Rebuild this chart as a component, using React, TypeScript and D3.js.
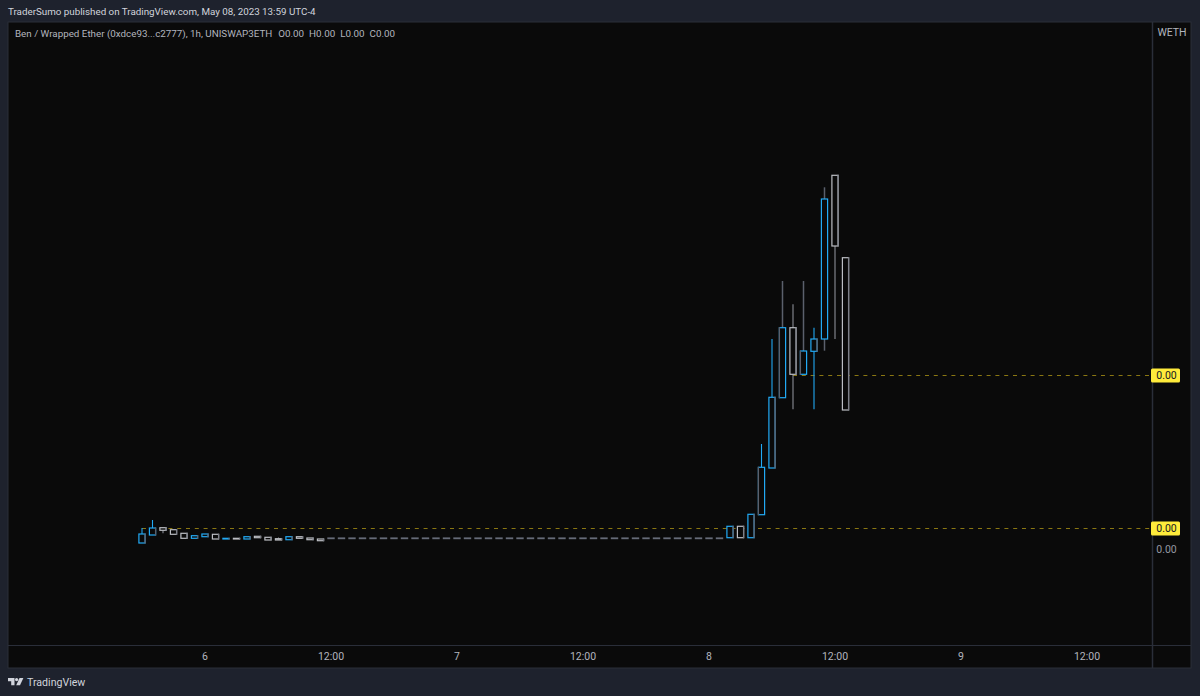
import React, { useEffect, useRef } from 'react';
import * as d3 from 'd3';

const width = 1200;
const height = 696;

// hours counted from the "6" tick
const hours = [-6, -5, -4, -3, -2, -1, 0, 1, 2, 3, 4, 5, 6, 7, 8, 9, 10, 11, 12, 13, 14, 15, 16, 17, 18, 19, 20, 21, 22, 23, 24, 25, 26, 27, 28, 29, 30, 31, 32, 33, 34, 35, 36, 37, 38, 39, 40, 41, 42, 43, 44, 45, 46, 47, 48, 49, 50, 51, 52, 53, 54, 55, 56, 57, 58, 59, 60, 61];

// prices are in picture units: the real ones are too small to read, the axis prints 0.00
const opens = [1.02, 1.10, 1.173, 1.153, 1.117, 1.067, 1.083, 1.107, 1.06, 1.067, 1.06, 1.087, 1.077, 1.063, 1.053, 1.083, 1.07, 1.06, 1.07, 1.07, 1.07, 1.07, 1.07, 1.07, 1.07, 1.07, 1.07, 1.07, 1.07, 1.07, 1.07, 1.07, 1.07, 1.07, 1.07, 1.07, 1.07, 1.07, 1.07, 1.07, 1.07, 1.07, 1.07, 1.07, 1.07, 1.07, 1.07, 1.07, 1.07, 1.07, 1.07, 1.07, 1.07, 1.07, 1.07, 1.07, 1.073, 1.187, 1.073, 1.303, 1.77, 2.473, 3.173, 2.707, 2.937, 3.06, 4.697, 3.873];
const closes = [1.11, 1.17, 1.147, 1.107, 1.067, 1.093, 1.11, 1.06, 1.067, 1.06, 1.083, 1.073, 1.05, 1.05, 1.083, 1.067, 1.053, 1.043, 1.07, 1.07, 1.07, 1.07, 1.07, 1.07, 1.07, 1.07, 1.07, 1.07, 1.07, 1.07, 1.07, 1.07, 1.07, 1.07, 1.07, 1.07, 1.07, 1.07, 1.07, 1.07, 1.07, 1.07, 1.07, 1.07, 1.07, 1.07, 1.07, 1.07, 1.07, 1.07, 1.07, 1.07, 1.07, 1.07, 1.07, 1.07, 1.187, 1.073, 1.307, 1.777, 2.477, 3.173, 2.707, 2.94, 3.06, 4.46, 3.99, 2.35];
const highs = [1.17, 1.25, 1.173, 1.153, 1.117, 1.093, 1.11, 1.107, 1.067, 1.067, 1.083, 1.087, 1.077, 1.075, 1.083, 1.083, 1.07, 1.06, 1.07, 1.07, 1.07, 1.07, 1.07, 1.07, 1.07, 1.07, 1.07, 1.07, 1.07, 1.07, 1.07, 1.07, 1.07, 1.07, 1.07, 1.07, 1.07, 1.07, 1.07, 1.07, 1.07, 1.07, 1.07, 1.07, 1.07, 1.07, 1.07, 1.07, 1.07, 1.07, 1.07, 1.07, 1.07, 1.07, 1.07, 1.07, 1.187, 1.187, 1.307, 2.01, 3.06, 3.64, 3.407, 3.64, 3.173, 4.577, 4.697, 3.873];
const lows = [1.02, 1.10, 1.117, 1.107, 1.067, 1.067, 1.083, 1.06, 1.06, 1.06, 1.06, 1.073, 1.05, 1.05, 1.053, 1.067, 1.053, 1.043, 1.07, 1.07, 1.07, 1.07, 1.07, 1.07, 1.07, 1.07, 1.07, 1.07, 1.07, 1.07, 1.07, 1.07, 1.07, 1.07, 1.07, 1.07, 1.07, 1.07, 1.07, 1.07, 1.07, 1.07, 1.07, 1.07, 1.07, 1.07, 1.07, 1.07, 1.07, 1.07, 1.07, 1.07, 1.07, 1.07, 1.07, 1.07, 1.073, 1.073, 1.073, 1.303, 1.77, 2.473, 2.357, 2.707, 2.357, 2.943, 3.06, 2.35];

const timeTickHours = [0, 12, 24, 36, 48, 60, 72, 84];
const timeTickLabels = ['6', '12:00', '7', '12:00', '8', '12:00', '9', '12:00'];

const priceLines = [
    { price: 2.70, fromHour: 56, label: '0.00' },
    { price: 1.17, fromHour: -6, label: '0.00' },
];
const axisPrices = [0.96];
const axisLabels = ['0.00'];

const titleText = 'TraderSumo published on TradingView.com, May 08, 2023 13:59 UTC-4';
const legendText = 'Ben / Wrapped Ether (0xdce93...c2777), 1h, UNISWAP3ETH';
const legendValues = ['O0.00', 'H0.00', 'L0.00', 'C0.00'];
const currencyText = 'WETH';
const brandText = 'TradingView';

// the picture shows one side of each outline dimmer than the other
const dimLeftHours = new Set([53, 55, 57]);
const noDimHours = new Set([59]);
const dimWickHours = new Set([55, 57, 59]);

const App: React.FC = () => {
    const svgRef = useRef<SVGSVGElement>(null);

    useEffect(() => {
        if (!svgRef.current) return;
        const svg = d3.select(svgRef.current);
        svg.selectAll('*').remove();

        const font = 'Roboto, sans-serif';
        const pane = { left: 8, right: 1152, top: 22, bottom: 645, outerRight: 1191, outerBottom: 668 };
        const blue = '#22aaf5';
        const light = '#bcbec4';
        const dim = '#5b606c';
        const flat = '#666b78';
        const lineColor = '#8a7712';

        const xScale = d3.scaleLinear().domain([0, 84]).range([205, 1087]);
        const yScale = d3.scaleLinear().domain([0, 6.23]).range([pane.bottom, pane.top]);

        svg.append('rect').attr('width', width).attr('height', height).attr('fill', '#1e222d');
        svg.append('rect')
            .attr('x', pane.left).attr('y', pane.top)
            .attr('width', pane.outerRight - pane.left).attr('height', pane.outerBottom - pane.top)
            .attr('fill', '#0a0a0a').attr('stroke', '#2a2e39');
        svg.append('line')
            .attr('x1', pane.right + 0.5).attr('x2', pane.right + 0.5)
            .attr('y1', pane.top).attr('y2', pane.outerBottom)
            .attr('stroke', '#2a2e39').attr('stroke-width', 1.5);
        svg.append('line')
            .attr('x1', pane.left).attr('x2', pane.outerRight)
            .attr('y1', pane.bottom + 0.5).attr('y2', pane.bottom + 0.5)
            .attr('stroke', '#2a2e39');

        // Dashed price lines sit behind the candles
        priceLines.forEach(line => {
            const y = Math.round(yScale(line.price)) + 0.5;
            svg.append('line')
                .attr('x1', xScale(line.fromHour)).attr('x2', pane.right)
                .attr('y1', y).attr('y2', y)
                .attr('stroke', lineColor)
                .attr('stroke-dasharray', '4 4.8');
        });

        const candles = hours.map((hour, i) => ({
            hour, open: opens[i], close: closes[i], high: highs[i], low: lows[i],
        }));
        const bodyWidth = 6.2;

        candles.forEach(d => {
            const x = xScale(d.hour);
            const top = yScale(Math.max(d.open, d.close));
            const bottom = yScale(Math.min(d.open, d.close));
            const isFlat = d.open === d.close;
            const main = isFlat ? flat : d.close > d.open ? blue : light;
            const wickDim = dimWickHours.has(d.hour);
            const wickColor = wickDim ? dim : main === light ? '#8b8e96' : main;

            if (d.high > d.low && yScale(d.high) < top) {
                svg.append('line')
                    .attr('x1', x).attr('x2', x)
                    .attr('y1', yScale(d.high)).attr('y2', top)
                    .attr('stroke', wickColor)
                    .attr('stroke-width', wickDim ? 1.5 : 1.1);
            }
            if (d.high > d.low && yScale(d.low) > bottom) {
                svg.append('line')
                    .attr('x1', x).attr('x2', x)
                    .attr('y1', bottom).attr('y2', yScale(d.low))
                    .attr('stroke', wickColor)
                    .attr('stroke-width', wickDim ? 1.5 : 1.1);
            }

            svg.append('rect')
                .attr('x', x - bodyWidth / 2)
                .attr('y', top)
                .attr('width', bodyWidth)
                .attr('height', Math.max(bottom - top, 0.6))
                .attr('fill', '#0a0a0a')
                .attr('stroke', main)
                .attr('stroke-width', 1.2);

            if (!isFlat && !noDimHours.has(d.hour)) {
                const sideX = dimLeftHours.has(d.hour) ? x - bodyWidth / 2 : x + bodyWidth / 2;
                svg.append('line')
                    .attr('x1', sideX).attr('x2', sideX)
                    .attr('y1', top - 0.5).attr('y2', bottom + 0.5)
                    .attr('stroke', main === light ? '#7d8089' : dim)
                    .attr('stroke-width', 1.3);
            }
        });

        // Price axis tags
        priceLines.forEach(line => {
            const y = Math.round(yScale(line.price)) + 0.5;
            svg.append('rect')
                .attr('x', pane.right - 1).attr('y', y - 7)
                .attr('width', 29).attr('height', 14)
                .attr('rx', 1.5)
                .attr('fill', '#ffeb3b');
            svg.append('text')
                .attr('x', pane.right + 14.5).attr('y', y + 3.5)
                .attr('text-anchor', 'middle')
                .attr('fill', '#131722')
                .style('font-family', font).style('font-size', '10.5px')
                .text(line.label);
        });
        axisPrices.forEach((price, i) => {
            svg.append('text')
                .attr('x', pane.right + 14.5).attr('y', yScale(price) + 3.5)
                .attr('text-anchor', 'middle')
                .attr('fill', '#9598a1')
                .style('font-family', font).style('font-size', '10.5px')
                .text(axisLabels[i]);
        });

        // Time axis
        timeTickHours.forEach((hour, i) => {
            svg.append('text')
                .attr('x', xScale(hour)).attr('y', 660)
                .attr('text-anchor', 'middle')
                .attr('fill', '#b2b5be')
                .style('font-family', font).style('font-size', '10.5px')
                .text(timeTickLabels[i]);
        });

        svg.append('text')
            .attr('x', 8).attr('y', 15)
            .attr('fill', '#d1d4dc')
            .style('font-family', font).style('font-size', '9.8px')
            .text(titleText);

        const legend = svg.append('text')
            .attr('x', 15).attr('y', 37)
            .attr('fill', '#b2b5be')
            .style('font-family', font).style('font-size', '9.8px');
        legend.append('tspan').text(legendText);
        legendValues.forEach((v, i) => {
            legend.append('tspan').attr('dx', i === 0 ? 6 : 5).text(v);
        });

        svg.append('text')
            .attr('x', 1172).attr('y', 36)
            .attr('text-anchor', 'middle')
            .attr('fill', '#b2b5be')
            .style('font-family', font).style('font-size', '10.5px')
            .text(currencyText);

        // TradingView mark
        const logo = svg.append('g').attr('fill', '#d1d4dc').attr('transform', 'translate(8,678)');
        logo.append('path').attr('d', 'M0 0H6.5V7.2H3.2V3.3H0Z');
        logo.append('circle').attr('cx', 8.6).attr('cy', 1.6).attr('r', 1.6);
        logo.append('path').attr('d', 'M11.5 0H15.4L12 7.2H8.2Z');

        svg.append('text')
            .attr('x', 27).attr('y', 686)
            .attr('fill', '#d1d4dc')
            .style('font-family', font).style('font-size', '10.6px')
            .text(brandText);
    }, []);

    return (
        <svg
            ref={svgRef}
            width={width}
            height={height}
            viewBox={`0 0 ${width} ${height}`}
            style={{ position: 'absolute', left: 0, top: 0, display: 'block' }}
        />
    );
};

export default App;
